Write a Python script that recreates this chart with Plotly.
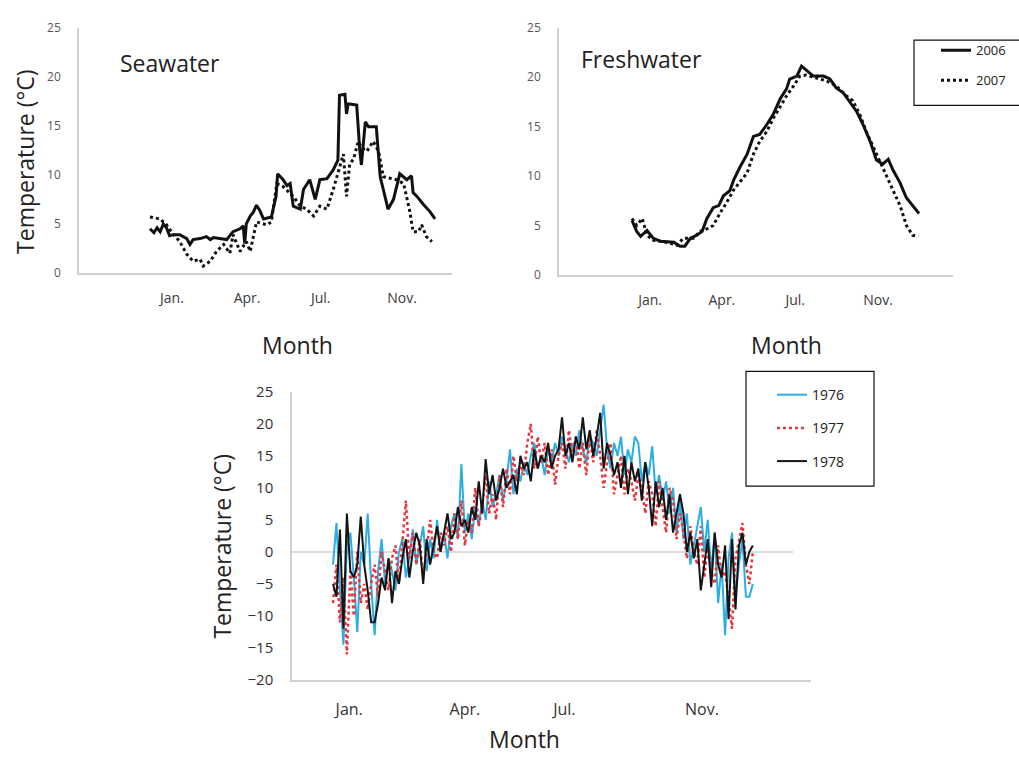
import numpy as np
import plotly.graph_objects as go

W, H = 1019, 763
FONT = "Open Sans"

# ---------------- data ----------------
month_labels = ["Jan.", "Apr.", "Jul.", "Nov."]

# Seawater (day of record, °C)
sea_day_2006 = [0, 5, 9, 13, 17, 21, 25, 30, 38, 47, 51, 55, 64, 72, 77, 81, 89, 98, 102, 106,
                115, 119, 121, 123, 128, 132, 136, 140, 145, 155, 161, 163, 170, 175, 179, 183, 192, 196, 204, 211,
                217, 226, 234, 240, 242, 249, 251, 253, 255, 264, 268, 270, 275, 279, 289, 294, 298, 304, 311, 319,
                328, 334, 336, 341, 349, 358, 364]
sea_temp_2006 = [4.5, 4.1, 4.6, 4.2, 5.0, 4.6, 3.8, 3.9, 3.9, 3.5, 2.9, 3.4, 3.5, 3.7, 3.4, 3.6, 3.5, 3.4, 3.8, 4.2,
                 4.5, 4.8, 3.0, 5.0, 5.8, 6.2, 6.9, 6.4, 5.5, 5.7, 7.8, 10.1, 9.5, 8.9, 9.1, 6.8, 6.5, 8.5, 9.5, 7.5,
                 9.5, 9.6, 10.5, 11.5, 18.1, 18.2, 16.2, 17.2, 17.2, 17.1, 12.4, 11.0, 15.4, 14.9, 14.9, 9.8, 8.5, 6.5, 7.5, 10.1,
                 9.5, 9.9, 8.2, 7.8, 7.0, 6.2, 5.5]
sea_day_2007 = [0, 13, 21, 30, 38, 47, 55, 64, 68, 77, 85, 94, 102, 106, 115, 123, 128, 136, 149, 155,
                162, 170, 183, 192, 200, 209, 217, 226, 234, 243, 247, 251, 255, 260, 266, 270, 277, 285, 292, 298,
                307, 315, 324, 332, 336, 343, 347, 353, 360]
sea_temp_2007 = [5.7, 5.5, 4.9, 3.9, 3.2, 1.9, 1.2, 1.4, 0.7, 1.2, 2.2, 2.9, 2.0, 3.9, 2.2, 3.2, 2.2, 5.2, 4.9, 5.2,
                 9.1, 8.8, 7.8, 6.8, 6.5, 5.8, 6.8, 6.5, 8.5, 11.1, 12.1, 7.8, 11.1, 11.6, 13.4, 12.8, 12.4, 13.4, 12.4, 9.8,
                 9.6, 9.5, 9.1, 6.2, 4.2, 4.2, 4.9, 3.7, 3.2]

# Freshwater (day of record, °C)
fresh_day_2006 = [0, 6, 11, 19, 27, 36, 53, 61, 67, 74, 82, 89, 95, 103, 110, 116, 124, 129, 137, 146,
                  154, 162, 171, 179, 188, 196, 200, 209, 215, 221, 230, 243, 251, 259, 268, 276, 285, 293, 302, 310,
                  318, 325, 331, 340, 348, 356, 364]
fresh_temp_2006 = [5.5, 4.4, 3.9, 4.5, 3.7, 3.4, 3.3, 2.9, 2.9, 3.7, 4.0, 4.4, 5.7, 6.8, 7.0, 8.0, 8.5, 9.6, 10.9, 12.2,
                   14.0, 14.2, 15.2, 16.2, 17.8, 18.8, 19.8, 20.1, 21.1, 20.7, 20.1, 20.1, 19.8, 18.9, 18.4, 17.5, 16.5, 15.2, 13.5, 11.6,
                   11.2, 11.7, 10.6, 9.3, 7.8, 7.0, 6.2]
fresh_day_2007 = [0, 6, 13, 19, 27, 44, 57, 65, 78, 86, 97, 103, 112, 120, 129, 137, 146, 154, 162, 171,
                  179, 188, 196, 205, 213, 221, 234, 247, 259, 272, 280, 289, 297, 306, 314, 323, 331, 340, 348, 356, 363]
fresh_temp_2007 = [5.7, 5.0, 5.7, 4.0, 3.5, 3.3, 3.0, 3.7, 3.7, 4.4, 4.7, 5.0, 6.3, 7.3, 8.6, 9.4, 10.3, 12.2, 13.5, 14.5,
                   15.8, 17.0, 18.1, 19.1, 20.1, 20.2, 19.9, 19.6, 19.1, 18.1, 17.6, 16.2, 14.5, 12.9, 11.6, 9.9, 8.6, 7.0, 5.0, 4.0, 3.9]

# Air temperature, every 3rd day of the year (°C), ten values per row = 30 days
air_1976 = [-2, 4.5, -6, -14.5, 1, 3, -4, -12.5, 0, -2,
            6, -5, -13, -3, 2, -5, -1, -3, -6, 0,
            2, -4, -1, 3.5, -2, 1, 4, -3, 2, -1,
            5, 0, 3, -1, 4, 6, 2, 13.7, 3, 6,
            2, 7, 4, 8, 5, 11, 7, 9, 12, 8,
            11, 16, 9, 13, 11, 14, 12, 15, 17, 13,
            15, 12, 16, 14, 17, 15, 18, 16, 14, 17,
            15, 19, 16, 14, 18, 17, 15, 19, 23, 16,
            13, 17, 15, 18, 12, 16, 14, 18, 17, 11,
            14, 12, 16.5, 9, 12, 8, 11, 6, 10, 3,
            8, 2, 6, -2, 1, 4, 7, 0, 5, -3,
            3, -8, -2, -13, -1, 3, -7, -2, 2, -7,
            -7, -5]
air_1977 = [-8, -2, -11, -4, -16, -3, -10, 0, -8, -5,
            -9, -5, -2, -7, 0, -3, -6, -1, 1, -5,
            2, 8, -1, 3, -2, 2, -4, 1, 5, 0,
            -1, 3, 1, 4, 0, 6, 2, 8, 1, 5,
            3, 10, 4, 7, 12, 6, 9, 5, 12, 7,
            13, 9, 15, 11, 14, 12, 17, 20, 13, 18,
            14, 17, 12, 16, 10.5, 15, 17, 13, 19, 15,
            18, 13, 17, 12, 18, 14, 19, 15, 10, 14,
            17, 9, 12, 15, 9, 13, 11, 8, 12, 10,
            6, 11, 9, 4, 11, 7, 3, 10, 8, 2,
            6, 3, -1, 4, 0, -2, 4, -4, 1, -3,
            -5, 1, -4, -3, -8, -12, -1, 2, 4.5, -2,
            -5, 0]
air_1978 = [-5, -7, 3.5, -12, 6, -3, -4, -2, 5.5, -2,
            -6, -11, -11, -8, -4, -6, -1, -8, -3, -5,
            -1, 2, -4, 0, 3, 1, -5, 2, -2, 1,
            4, 0, 3, 6, 2, 3, 7, 4, 5, 3,
            7, 5, 11, 6, 14.5, 9, 12, 8, 10, 13,
            10, 11, 12, 9, 15, 13, 14, 11, 16, 13,
            15, 14, 17, 13, 15, 16, 21, 15, 17, 14,
            18, 16, 21, 16, 19, 15, 18, 21.7, 13, 17,
            15, 12, 14, 10, 15, 9, 14, 11, 13, 8,
            14, 10, 4, 11, 7, 10, 5, 9, 3, 6,
            9, 6, 0, 3, -1, 2, -6, -2, 2, -5.5,
            3, -2, -4, 1, -10.5, 2, -9, 1, 3, -2,
            0, 1]
air_years = ["1976", "1977", "1978"]


def xd(p):
    return p / W


def yd(p):
    return 1 - p / H


def pix_range(p_left, p_right, p_day0, p_day364):
    """Axis range in days, from the pixel span of the axis and of the record."""
    k = (p_day364 - p_day0) / 364.0
    return [(p_left - p_day0) / k, (p_right - p_day0) / k]


fig = go.Figure()

SOLID = dict(color="#111111", width=3)
DOTTED = dict(color="#111111", width=3, dash="dot")

fig.add_trace(go.Scatter(x=sea_day_2006, y=sea_temp_2006, mode="lines", line=SOLID,
                         xaxis="x", yaxis="y", showlegend=False))
fig.add_trace(go.Scatter(x=sea_day_2007, y=sea_temp_2007, mode="lines", line=DOTTED,
                         xaxis="x", yaxis="y", showlegend=False))
fig.add_trace(go.Scatter(x=fresh_day_2006, y=fresh_temp_2006, mode="lines", line=SOLID, name="2006",
                         xaxis="x2", yaxis="y2", legend="legend", legendgroup="a"))
fig.add_trace(go.Scatter(x=fresh_day_2007, y=fresh_temp_2007, mode="lines", line=DOTTED, name="2007",
                         xaxis="x2", yaxis="y2", legend="legend", legendgroup="b"))

air_styles = [dict(color="#2aaee4", width=2),
              dict(color="#e4363c", width=2.5, dash="dot"),
              dict(color="#141414", width=2)]
for name, vals, st in zip(air_years, [air_1976, air_1977, air_1978], air_styles):
    days = np.arange(len(vals)) * 3
    fig.add_trace(go.Scatter(x=days, y=vals, mode="lines", line=st, name=name,
                             xaxis="x3", yaxis="y3", legend="legend2", legendgroup=name))

AX = "#d0d0d0"
top_tick_font = dict(family=FONT, size=12, color="#595959")
month_font = dict(family=FONT, size=14, color="#3a3a3a")

sea_range = pix_range(79, 452, 150, 435)
fresh_range = pix_range(559, 953, 632, 919)
air_range = pix_range(292, 811, 333, 754)
air_k = (754 - 333) / 364.0
air_tick_days = [air_range[0] + i * (air_range[1] - air_range[0]) / 9 for i in range(10)]

common_x = dict(showgrid=False, zeroline=False, showline=True, linecolor=AX, linewidth=1.5,
                ticks="", tickfont=month_font, ticklabelstandoff=12)
common_y = dict(showgrid=False, zeroline=False, showline=True, linecolor=AX, linewidth=1.5,
                ticks="", tickfont=top_tick_font, range=[0, 25], tickvals=[0, 5, 10, 15, 20, 25],
                ticklabelstandoff=14)

fig.update_layout(
    width=W, height=H, margin=dict(l=0, r=0, t=0, b=0),
    paper_bgcolor="white", plot_bgcolor="white",
    font=dict(family=FONT, color="#222222"),
    xaxis=dict(common_x, domain=[xd(79), xd(452)], range=sea_range, anchor="y",
               tickvals=[28, 124, 218, 322], ticktext=month_labels),
    yaxis=dict(common_y, domain=[yd(269), yd(17)], anchor="x"),
    xaxis2=dict(common_x, domain=[xd(559), xd(953)], range=fresh_range, anchor="y2",
                tickvals=[23, 114, 207, 312], ticktext=month_labels),
    yaxis2=dict(common_y, domain=[yd(271), yd(17)], anchor="x2"),
    xaxis3=dict(common_x, domain=[xd(292), xd(811)], range=air_range, anchor="y3",
                tickvals=[14, 114, 200, 319], ticktext=month_labels,
                tickfont=dict(family=FONT, size=16, color="#333333"), ticklabelstandoff=14),
    xaxis4=dict(overlaying="x3", anchor="y3", range=air_range, showgrid=False, zeroline=False,
                showline=False, ticks="outside", ticklen=7, tickcolor=AX, tickwidth=1.5,
                tickvals=air_tick_days, showticklabels=False),
    yaxis3=dict(showgrid=False, zeroline=False, showline=True, linecolor=AX, linewidth=1.5,
                ticks="", domain=[yd(687), yd(391)], range=[-20, 25], anchor="x3",
                tickvals=list(range(-20, 30, 5)),
                tickfont=dict(family=FONT, size=15, color="#333333"), ticklabelstandoff=14),
    legend=dict(x=xd(936), y=yd(25), xanchor="left", yanchor="top", bgcolor="rgba(0,0,0,0)",
                borderwidth=0, font=dict(family=FONT, size=13, color="#222222"),
                tracegroupgap=10, itemclick=False),
    legend2=dict(x=xd(772), y=yd(378), xanchor="left", yanchor="top", bgcolor="rgba(0,0,0,0)",
                 borderwidth=0, font=dict(family=FONT, size=14, color="#222222"),
                 tracegroupgap=12, itemclick=False),
    shapes=[
        dict(type="rect", xref="paper", yref="paper", x0=xd(914), x1=1.01, y0=yd(97), y1=yd(30),
             line=dict(color="#111111", width=1.2)),
        dict(type="rect", xref="paper", yref="paper", x0=xd(746), x1=xd(874), y0=yd(488), y1=yd(370),
             line=dict(color="#111111", width=1.2)),
        dict(type="line", xref="x3", yref="y3", x0=air_range[0], x1=(793 - 333) / air_k, y0=0, y1=0,
             line=dict(color=AX, width=1.5), layer="below"),
    ],
)

title_font = dict(family=FONT, size=23, color="#222222")
ann = [
    dict(text="Seawater", x=xd(118), y=yd(53), xanchor="left", yanchor="middle"),
    dict(text="Freshwater", x=xd(579), y=yd(49), xanchor="left", yanchor="middle"),
    dict(text="Temperature (°C)", x=xd(25), y=yd(155), xanchor="center", yanchor="middle", textangle=-90),
    dict(text="Temperature (°C)", x=xd(222), y=yd(550), xanchor="center", yanchor="middle", textangle=-90),
    dict(text="Month", x=xd(297), y=yd(343), xanchor="center", yanchor="middle"),
    dict(text="Month", x=xd(786), y=yd(343), xanchor="center", yanchor="middle"),
    dict(text="Month", x=xd(524), y=yd(748), xanchor="center", yanchor="middle"),
]
for a in ann:
    fig.add_annotation(xref="paper", yref="paper", showarrow=False, font=title_font, **a)

fig.write_html("out.html")
